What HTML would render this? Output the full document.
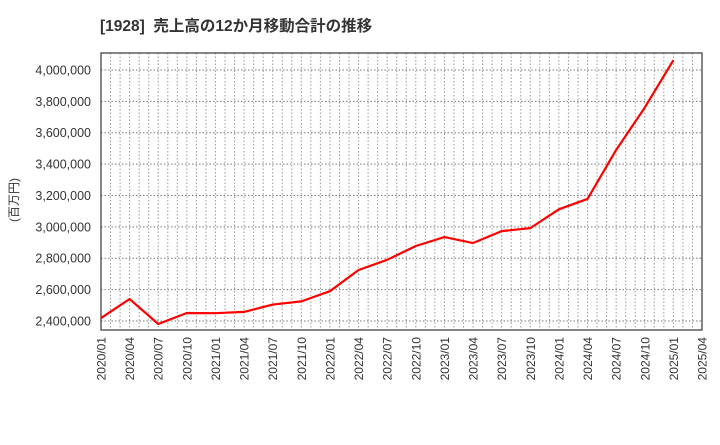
<!DOCTYPE html>
<html><head><meta charset="utf-8"><style>
body{margin:0;background:#fff;font-family:"Liberation Sans","Noto Sans CJK JP",sans-serif;}
</style></head><body>
<svg width="720" height="440" xmlns="http://www.w3.org/2000/svg" id="c">
<text x="100" y="31" font-size="15.5" font-weight="bold" fill="#333" xml:space="preserve" style="white-space:pre" font-family="Liberation Sans, Noto Sans CJK JP, sans-serif">[1928]  売上高の12か月移動合計の推移</text>
<text transform="translate(18,200) rotate(-90)" text-anchor="middle" font-size="12" fill="#333" font-family="Liberation Sans, Noto Sans CJK JP, sans-serif">(百万円)</text>
<g id="grid"></g><g id="ylab"></g><g id="xlab"></g>
<rect x="101" y="53" width="601" height="277" fill="none" stroke="#444" stroke-width="1.3"/>
<path id="line" fill="none" stroke="#f00" stroke-width="2.2" stroke-linejoin="round"/>
</svg>
<script>
const categories=["2020/01","2020/04","2020/07","2020/10","2021/01","2021/04","2021/07","2021/10","2022/01","2022/04","2022/07","2022/10","2023/01","2023/04","2023/07","2023/10","2024/01","2024/04","2024/07","2024/10","2025/01","2025/04"];
const values=[2419000,2540000,2381000,2451000,2450000,2458000,2505000,2525000,2590000,2725000,2790000,2878000,2935000,2897000,2973000,2992000,3112000,3178000,3490000,3760000,4062000];
const yTicks=[2400000,2600000,2800000,3000000,3200000,3400000,3600000,3800000,4000000];
const L=101,R=702,T=53,B=330,yMin=2342700,yMax=4108000;
const NS="http://www.w3.org/2000/svg";
function xq(i){return L+(R-L)*i/(categories.length-1);}
function xm(m){return L+(R-L)*m/((categories.length-1)*3);}
function y(v){return B-(v-yMin)/(yMax-yMin)*(B-T);}
const g=document.getElementById('grid'),yl=document.getElementById('ylab'),xl=document.getElementById('xlab');
for(let m=1;m<(categories.length-1)*3;m++){
 const l=document.createElementNS(NS,'line');
 
 
 l.setAttribute('x1',xm(m));l.setAttribute('x2',xm(m));l.setAttribute('y1',T);l.setAttribute('y2',B);
 l.setAttribute('stroke','#999');l.setAttribute('stroke-dasharray','1.5,2');l.setAttribute('stroke-width','1');
 g.appendChild(l);
}
yTicks.forEach(v=>{
 const l=document.createElementNS(NS,'line');
 
 
 l.setAttribute('x1',L);l.setAttribute('x2',R);l.setAttribute('y1',y(v));l.setAttribute('y2',y(v));
 l.setAttribute('stroke','#777');l.setAttribute('stroke-dasharray','1.5,2');
 g.appendChild(l);
 const t=document.createElementNS(NS,'text');
 
 
 t.setAttribute('x',91);t.setAttribute('y',y(v)+4.5);t.setAttribute('text-anchor','end');
 t.setAttribute('font-size','12.5');t.setAttribute('fill','#333');t.textContent=v.toLocaleString('en-US');
 yl.appendChild(t);
});
categories.forEach((c,i)=>{
 const t=document.createElementNS(NS,'text');
 
 
 t.setAttribute('transform','translate('+(xq(i)+4.5)+',337) rotate(-90)');
 t.setAttribute('text-anchor','end');t.setAttribute('font-size','12');t.setAttribute('fill','#333');
 t.textContent=c;xl.appendChild(t);
});
document.getElementById('line').setAttribute('d',values.map((v,i)=>(i?'L':'M')+xq(i)+','+y(v)).join(' '));
</script>
</body></html>
